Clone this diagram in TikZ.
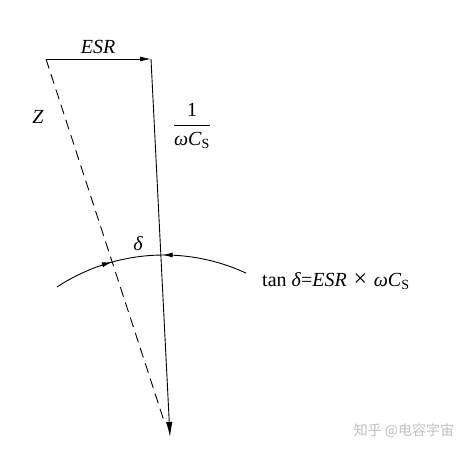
\documentclass[tikz,border=0pt]{standalone}
\usepackage{amsmath}
\usepackage{fontspec}
\setmainfont{Liberation Serif}
\newfontfamily\cjk{Noto Sans CJK SC}
\usetikzlibrary{arrows.meta,decorations.markings}
\tikzset{
  vec/.style={line width=0.9pt},
  lbl/.style={inner sep=0pt, font=\fontsize{20}{24}\selectfont},
  dashvec/.style={line width=0.9pt, dash pattern=on 10pt off 6pt},
  wm/.style={inner sep=0pt, text=black!25, font=\cjk\fontsize{14}{16}\selectfont}
}
\begin{document}
\begin{tikzpicture}[x=1pt,y=1pt]
\useasboundingbox (0,0) rectangle (469,451);
\coordinate (A) at (46,392);
\coordinate (B) at (151,392);
\coordinate (C) at (170,14);
\coordinate (D) at (165,27);
\coordinate (O) at (164,1);
% vectors
\draw[vec,-{Latex[length=11pt,width=5pt]}] (A) -- (B);
\draw[vec,-{Latex[length=15pt,width=6.5pt]}] (B) -- (C);
\draw[dashvec] (A) -- (D);
% arc
\draw[vec,postaction={decorate},decoration={markings,
   mark=at position 0.306 with {\arrow{Latex[length=10pt,width=5pt]}},
   mark=at position 0.565 with {\arrowreversed{Latex[length=10pt,width=5pt]}}}]
   (O) ++(123.3:195) arc[start angle=123.3, end angle=65.1, radius=195pt];
% labels
\node[lbl] (esr) at (98,404) {\itshape ESR};
\node[lbl] (z) at (38,334) {\itshape Z};
\node[lbl] (frac) at (192,325) {$\dfrac{\textrm{1}}{\textit{ω}\textit{C}_{\textrm{S}}}$};
\node[lbl] (delta) at (138,207) {\itshape δ};
\node[lbl,anchor=west] (tan) at (262,170) {tan \textit{δ}=\textit{ESR}\,\,{\fontsize{24}{24}\selectfont ×}\,\,\textit{ωC}$_{\textrm{S}}$};
\node[wm] (mark) at (404,20) {知乎 @电容宇宙};
\end{tikzpicture}
\end{document}
